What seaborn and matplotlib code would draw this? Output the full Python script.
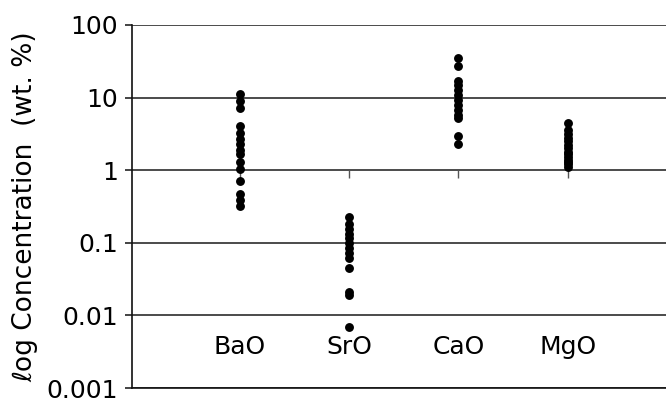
import numpy as np
import pandas as pd
import matplotlib
matplotlib.use("Agg")
import matplotlib.pyplot as plt
import seaborn as sns
from matplotlib.ticker import FixedLocator, FixedFormatter, NullLocator
from matplotlib.markers import TICKDOWN

# Oxide concentrations (wt. %) measured in each sample
oxides = ["BaO", "SrO", "CaO", "MgO"]
bao = [11.2, 9.0, 7.2, 4.1, 3.3, 2.7, 2.3, 1.9, 1.65, 1.3, 1.03, 0.71, 0.47, 0.39, 0.32]
sro = [0.23, 0.18, 0.157, 0.134, 0.115, 0.098, 0.084, 0.072, 0.061, 0.045, 0.021, 0.019, 0.007]
cao = [35, 27, 17, 15, 12.7, 10.8, 9.3, 7.9, 6.8, 5.8, 5.3, 3.0, 2.3]
mgo = [4.5, 3.6, 3.2, 2.8, 2.5, 2.2, 2.0, 1.8, 1.65, 1.5, 1.4, 1.3, 1.2, 1.1]
y_ticks = [0.001, 0.01, 0.1, 1, 10, 100]
y_tick_labels = ["0.001", "0.01", "0.1", "1", "10", "100"]
axis_cross = 1  # horizontal category axis crosses at 1 wt. %

df = pd.DataFrame({
    "oxide": np.repeat(oxides, [len(bao), len(sro), len(cao), len(mgo)]),
    "conc": bao + sro + cao + mgo,
})

sns.set_style("white")
plt.rcParams["font.family"] = ["DejaVu Sans"]
plt.rcParams["text.color"] = "black"
plt.rcParams["axes.labelcolor"] = "black"
plt.rcParams["xtick.color"] = "black"
plt.rcParams["ytick.color"] = "black"

fig = plt.figure(figsize=(6.66, 4.03), dpi=100)
ax = fig.add_axes([0.198, 0.037, 0.802, 0.901])

# category tick marks hanging below the crossing line
ax.plot(range(len(oxides)), [axis_cross] * len(oxides), linestyle="none",
        marker=TICKDOWN, markersize=6, markeredgewidth=1.0,
        color="#555555", zorder=1.5)

sns.stripplot(data=df, x="oxide", y="conc", order=oxides, jitter=False,
              color="black", size=6.4, linewidth=0, ax=ax, zorder=3)

ax.set_yscale("log")
ax.set_ylim(y_ticks[0], y_ticks[-1])
ax.set_xlim(-0.99, 3.9)
ax.yaxis.set_major_locator(FixedLocator(y_ticks))
ax.yaxis.set_major_formatter(FixedFormatter(y_tick_labels))
ax.yaxis.set_minor_locator(NullLocator())

ax.grid(axis="y", color="#1a1a1a", linewidth=1.1)
ax.grid(axis="x", visible=False)
ax.set_axisbelow(True)

for side in ["top", "right"]:
    ax.spines[side].set_visible(False)
for side in ["left", "bottom"]:
    ax.spines[side].set_color("#111111")
    ax.spines[side].set_linewidth(1.2)

ax.tick_params(axis="y", which="major", direction="out", length=5, width=1.1,
               color="#111111", labelsize=18, pad=5, left=True)
ax.tick_params(axis="x", length=0, labelsize=18, pad=-38)

ax.set_xlabel("")
ax.set_ylabel("\u2113og Concentration  (wt. %)", fontsize=19, labelpad=6)

fig.savefig("out.png", dpi=100)
